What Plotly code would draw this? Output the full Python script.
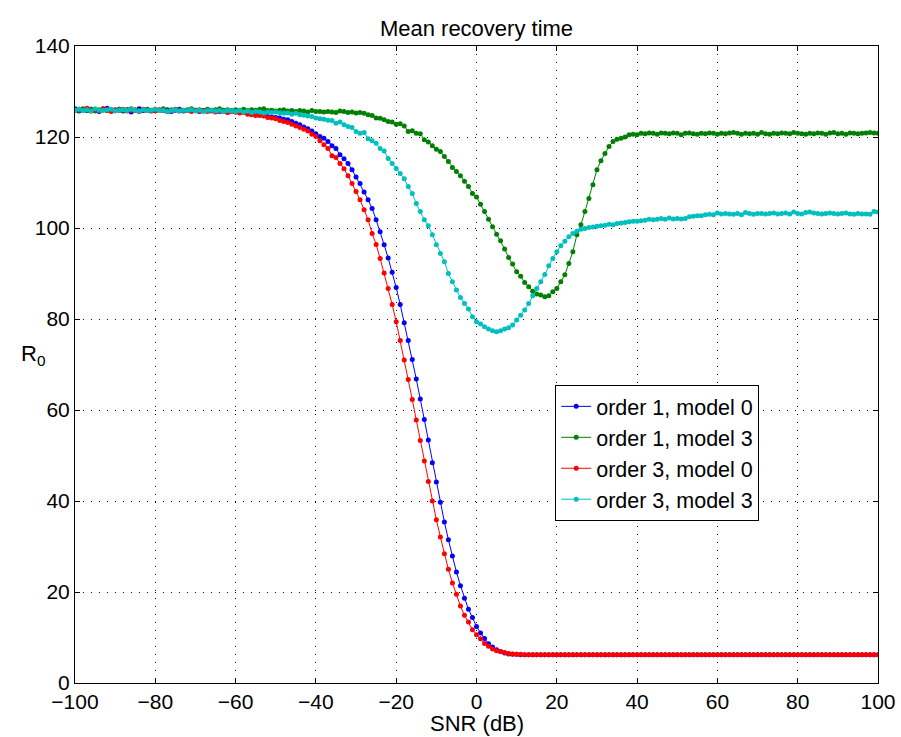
import plotly.graph_objects as go

snr = list(range(-100, 101))

order1_model0 = [
    126.2, 125.7, 126.0, 125.8, 126.1, 125.9, 125.6, 126.0, 126.3, 125.8,
    125.9, 126.1, 125.7, 126.0, 125.5, 125.9, 126.2, 125.8, 126.0, 125.7,
    126.1, 125.9, 125.8, 126.0, 125.6, 125.9, 126.1, 125.7, 125.8, 126.0,
    125.9, 125.6, 125.8, 125.9, 125.7, 125.8, 125.6, 125.7, 125.5, 125.6,
    125.5, 125.4, 125.5, 125.2, 125.0, 125.1, 124.8, 124.8, 124.5, 124.4,
    124.3, 124.2, 123.9, 123.8, 123.4, 123.0, 122.7, 122.2, 121.8, 121.3,
    120.7,
    120.1, 119.7, 119.0, 118.1, 117.5, 116.1, 115.2, 114.2, 112.8, 111.2,
    109.8, 107.9, 106.2, 104.3, 101.8, 99.2, 96.3, 93.4, 90.3, 86.9,
    83.2, 79.2, 75.3, 71.1, 66.8, 62.4, 57.9,
    53.4, 48.4, 44.2, 39.7, 35.4, 31.5, 27.9, 24.4, 21.4, 18.6,
    16.2, 14.4, 12.4, 11.0, 9.8, 8.6, 7.9, 7.3, 6.9, 6.6, 6.4,
    6.3, 6.3, 6.2, 6.2, 6.2, 6.2, 6.2, 6.2, 6.2, 6.2,
    6.2, 6.2, 6.2, 6.2, 6.2, 6.2, 6.2, 6.2, 6.2, 6.2,
    6.2, 6.2, 6.2, 6.2, 6.2, 6.2, 6.2, 6.2, 6.2, 6.2,
    6.2, 6.2, 6.2, 6.2, 6.2, 6.2, 6.2, 6.2, 6.2, 6.2,
    6.2, 6.2, 6.2, 6.2, 6.2, 6.2, 6.2, 6.2, 6.2, 6.2,
    6.2, 6.2, 6.2, 6.2, 6.2, 6.2, 6.2, 6.2, 6.2, 6.2,
    6.2, 6.2, 6.2, 6.2, 6.2, 6.2, 6.2, 6.2, 6.2, 6.2,
    6.2, 6.2, 6.2, 6.2, 6.2, 6.2, 6.2, 6.2, 6.2, 6.2,
    6.2, 6.2, 6.2, 6.2, 6.2, 6.2, 6.2, 6.2, 6.2, 6.2,
    6.2, 6.2,
]

order1_model3 = [
    126.0, 125.8, 126.2, 125.9, 126.1, 125.7, 126.0, 126.2, 125.8, 126.0,
    125.9, 126.1, 125.8, 126.0, 126.2, 125.9, 125.7, 126.0, 126.1, 125.8,
    126.0, 125.9, 126.2, 125.8, 126.0, 126.1, 125.9, 125.8, 126.0, 126.2,
    125.9, 126.0, 125.8, 126.1, 125.9, 126.0, 126.2, 125.9, 126.0, 125.8,
    126.0, 125.9, 126.1, 125.8, 126.0, 125.9, 126.1, 126.2, 125.8, 125.9,
    125.7, 125.9, 126.0, 125.7, 125.8, 125.6, 125.8, 125.7, 125.5, 125.8,
    125.6,
    125.6, 125.5, 125.6, 125.5, 125.4, 125.7, 125.6, 125.4, 125.5, 125.3,
    125.4, 125.2, 124.9, 124.7, 124.2, 124.1, 123.8, 123.4, 123.3, 122.8,
    122.9, 122.4, 121.2, 121.4, 120.8, 120.7, 119.4, 118.9, 118.1, 117.3,
    116.8, 115.7, 114.6, 113.3, 112.4, 111.5, 110.3, 109.1, 107.6, 106.8,
    105.2, 103.6, 101.9, 100.3, 98.6, 97.2, 95.4, 93.5, 92.1, 90.4,
    89.4, 88.0, 87.1, 86.1, 85.5, 85.3, 84.9, 85.1, 86.0, 86.7,
    88.2, 89.7, 92.2, 94.8, 98.5, 100.7, 103.6, 106.5, 109.5, 112.8,
    114.8, 116.4, 117.9, 119.0, 119.5, 119.7, 120.0, 120.5, 120.6, 120.5,
    120.8, 120.7, 120.9, 120.8, 120.6, 120.9, 120.8, 120.7, 120.9, 120.8,
    120.5, 120.8, 120.9, 120.7, 120.6, 120.8, 120.7, 120.9, 120.8, 120.6,
    120.8, 120.7, 120.9, 121.0, 120.8, 120.6, 120.8, 120.7, 120.8, 120.6,
    121.0, 120.7, 120.6, 120.8, 120.7, 120.9, 120.8, 120.7, 121.0, 120.8,
    120.7, 120.6, 120.8, 120.7, 120.9, 120.8, 120.6, 120.9, 121.0, 120.7,
    120.8, 120.6, 120.9, 120.8, 120.7, 120.8, 120.9, 121.0, 120.9, 120.8,
]

order3_model0 = [
    125.8, 126.1, 125.9, 126.3, 125.7, 126.0, 125.8, 126.2, 125.9, 125.6,
    126.0, 125.8, 126.1, 125.7, 125.9, 126.0, 125.6, 126.1, 125.8, 125.9,
    125.7, 126.0, 125.9, 125.6, 125.8, 126.0, 125.7, 125.9, 125.8, 125.6,
    125.8, 125.7, 125.9, 125.6, 125.8, 125.5, 125.7, 125.6, 125.4, 125.6,
    125.5, 125.3, 125.4, 125.0, 124.9, 124.7, 124.8, 124.6, 124.3, 124.2,
    124.0, 123.6, 123.4, 123.2, 122.8, 122.4, 122.1, 121.7, 121.3, 120.6,
    120.1,
    119.2, 118.3, 117.5, 115.9, 115.5, 114.2, 113.0, 111.5, 109.8, 108.0,
    106.2, 104.0, 101.8, 98.8, 96.4, 93.3, 90.1, 86.7, 83.2, 79.4,
    75.3, 71.0, 66.7, 62.3, 57.8,
    53.3, 48.8, 44.3, 40.0, 35.9, 32.1, 28.4, 25.0, 22.0, 19.5,
    16.9, 14.9, 13.4, 11.7, 10.6, 9.7, 8.7, 8.1, 7.5, 7.1,
    6.9, 6.7, 6.5,
    6.4, 6.3, 6.3, 6.2, 6.2, 6.2, 6.2, 6.2, 6.2, 6.2,
    6.2, 6.2, 6.2, 6.2, 6.2, 6.2, 6.2, 6.2, 6.2, 6.2,
    6.2, 6.2, 6.2, 6.2, 6.2, 6.2, 6.2, 6.2, 6.2, 6.2,
    6.2, 6.2, 6.2, 6.2, 6.2, 6.2, 6.2, 6.2, 6.2, 6.2,
    6.2, 6.2, 6.2, 6.2, 6.2, 6.2, 6.2, 6.2, 6.2, 6.2,
    6.2, 6.2, 6.2, 6.2, 6.2, 6.2, 6.2, 6.2, 6.2, 6.2,
    6.2, 6.2, 6.2, 6.2, 6.2, 6.2, 6.2, 6.2, 6.2, 6.2,
    6.2, 6.2, 6.2, 6.2, 6.2, 6.2, 6.2, 6.2, 6.2, 6.2,
    6.2, 6.2, 6.2, 6.2, 6.2, 6.2, 6.2, 6.2, 6.2, 6.2,
    6.2, 6.2,
]

order3_model3 = [
    125.9, 126.1, 125.8, 126.0, 125.7, 126.2, 125.9, 125.8, 126.0, 126.1,
    125.7, 125.9, 126.0, 125.8, 126.1, 125.9, 125.7, 126.0, 125.8, 125.9,
    126.1, 125.8, 125.9, 125.6, 125.8, 126.0, 125.7, 125.9, 125.8, 126.0,
    125.7, 125.9, 125.6, 125.8, 125.9, 125.7, 125.8, 125.6, 125.8, 125.7,
    125.6, 125.8, 125.5, 125.7, 125.4, 125.6, 125.5, 125.3, 125.5, 125.4,
    125.5, 125.3, 125.2, 125.3, 125.0, 125.2, 124.9, 124.8, 124.6, 124.5,
    124.2,
    124.0, 123.9, 123.7, 123.6, 123.0, 123.3, 122.7, 122.3, 122.1, 121.2,
    120.8, 121.0, 119.6, 119.2, 118.6, 117.5, 116.9, 115.3, 114.2, 113.1,
    112.0, 110.8, 109.1, 107.6, 105.4, 103.6, 101.8, 100.5, 98.5, 96.3,
    94.4, 92.6, 90.0, 88.2, 86.4, 84.7, 83.4, 82.2, 80.5, 79.4,
    78.9, 78.3, 77.8, 77.4,
    77.2, 77.4, 77.8, 78.1, 78.7, 79.8, 80.8, 82.0, 83.4, 85.1,
    86.7, 88.2, 89.8, 91.7, 93.3, 94.8, 96.1, 97.1, 98.1, 98.8,
    99.3, 99.7, 99.9, 100.1, 100.2, 100.4,
    100.5, 100.6, 100.8, 100.7, 101.0, 101.1, 101.2, 101.4, 101.5, 101.5,
    101.6, 101.7, 101.9, 101.8, 101.9, 102.1, 101.9, 102.2, 102.0, 102.1,
    102.0, 102.1, 102.5, 102.6, 102.7, 102.7, 102.9, 103.0, 102.9, 103.3,
    103.1, 103.2, 103.1, 103.0, 103.2, 102.9, 103.4, 103.2, 103.0, 103.2,
    103.2, 103.1, 103.2, 103.3, 103.1, 103.2, 103.3, 103.1, 103.5, 103.2,
    103.1, 103.4, 103.5, 103.3, 103.2, 103.1, 103.2, 103.3, 103.2, 103.1,
    103.2, 103.3, 103.1, 103.0, 103.2, 103.1, 103.1, 103.0, 103.6, 103.5,
]

series_names = ["order 1, model 0", "order 1, model 3", "order 3, model 0", "order 3, model 3"]
series_values = [order1_model0, order1_model3, order3_model0, order3_model3]
series_colors = ["#0000FF", "#008000", "#FF0000", "#00BFBF"]

x_ticks = [-100, -80, -60, -40, -20, 0, 20, 40, 60, 80, 100]
y_ticks = [0, 20, 40, 60, 80, 100, 120, 140]

FONT = "Liberation Sans, Arial, Helvetica, sans-serif"

fig = go.Figure()
for name, vals, col in zip(series_names, series_values, series_colors):
    fig.add_trace(go.Scatter(
        x=snr, y=vals, name=name, mode="lines+markers",
        line=dict(color=col, width=1),
        marker=dict(color=col, size=5),
    ))

axis_common = dict(
    showline=True, linecolor="black", linewidth=1, mirror="ticks",
    ticks="inside", ticklen=5, tickcolor="black", tickwidth=1,
    showgrid=True, gridcolor="black", gridwidth=1, griddash="1px,7px",
    zeroline=False, automargin=False,
    tickfont=dict(family=FONT, size=21, color="black"),
)

fig.update_xaxes(range=[-100, 100], tickvals=x_ticks, **axis_common)
fig.update_yaxes(range=[0, 140], tickvals=y_ticks, **axis_common)

fig.update_layout(
    width=901, height=737,
    margin=dict(l=75, r=23, t=46, b=54),
    paper_bgcolor="white", plot_bgcolor="white",
    font=dict(family=FONT, size=21, color="black"),
    title=dict(text="Mean recovery time", x=0.5, xref="paper", xanchor="center",
               y=1 - 28 / 737, yref="container", yanchor="middle",
               font=dict(family=FONT, size=22, color="black")),
    showlegend=True,
    legend=dict(x=0.598, y=0.468, xanchor="left", yanchor="top",
                bgcolor="white", bordercolor="black", borderwidth=1,
                font=dict(family=FONT, size=21.5, color="black"),
                tracegroupgap=0),
    annotations=[
        dict(text="SNR (dB)", x=0.5, y=-0.064, xref="paper", yref="paper",
             xanchor="center", yanchor="middle", showarrow=False,
             font=dict(family=FONT, size=22, color="black")),
        dict(text="R<sub>0</sub>", x=0, y=0.515, xref="paper", yref="paper",
             xshift=-42, xanchor="center", yanchor="middle", showarrow=False,
             font=dict(family=FONT, size=22, color="black")),
    ],
)

fig.write_html("out.html")
